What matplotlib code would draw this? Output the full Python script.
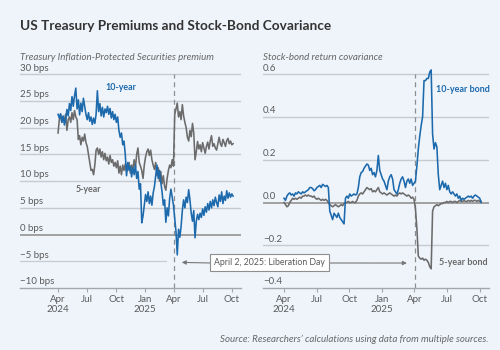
import matplotlib
matplotlib.use('Agg')
import matplotlib.pyplot as plt
import pandas as pd

# Data, one point every 4 days from 1 Apr 2024
dates = pd.date_range('2024-04-01', periods=139, freq='4D')
liberation_day = pd.Timestamp('2025-04-02')

# TIPS premium, basis points
tips_10yr = [
    22.5, 21.8, 22.6, 21.0, 22.2, 20.5, 21.6, 23.4, 22.2, 24.5,
    23.2, 25.8, 24.0, 26.0, 27.4, 23.5, 25.2, 22.4, 24.6, 23.0,
    25.5, 24.0, 22.5, 21.5, 22.8, 21.2, 22.0, 20.6, 21.8, 20.8,
    22.5, 26.9, 23.0, 24.5, 22.2, 23.8, 22.0, 23.5, 22.8, 24.0,
    22.5, 23.6, 21.8, 23.0, 21.5, 22.5, 21.0, 22.0, 19.5, 18.2,
    19.0, 16.8, 17.5, 15.0, 11.0, 13.5, 12.0, 12.8, 10.8, 12.5,
    11.2, 13.0, 10.5, 11.8, 8.5, 9.5, 2.2, 3.5, 5.5, 7.5,
    6.2, 8.0, 5.8, 7.2, 5.5, 7.8, 9.0, 11.0, 13.0, 10.5,
    12.0, 9.8, 8.0, 5.5, 6.5, 2.3, 5.0, 3.5, 6.8, 8.5,
    7.0, 5.5, 3.0, 0.5, -3.8, 1.0, -0.5, 1.5, 4.5, 6.5,
    5.0, 7.0, 6.0, 8.4, 6.5, 4.0, 2.5, 4.5, -0.6, 2.5,
    3.8, 2.8, 4.0, 3.2, 4.8, 3.6, 5.2, 4.2, 5.8, 4.6,
    6.2, 5.0, 6.5, 5.4, 7.0, 6.0, 5.2, 7.4, 6.2, 8.0,
    5.8, 7.2, 6.4, 8.2, 6.8, 7.8, 7.0, 7.6, 7.2,
]
tips_5yr = [
    19.0, 21.5, 22.5, 21.0, 22.0, 21.5, 22.5, 19.5, 21.5, 22.0,
    21.0, 22.8, 21.5, 23.2, 22.0, 21.5, 17.8, 18.5, 16.8, 18.2,
    17.5, 18.8, 17.2, 16.5, 15.0, 13.5, 12.0, 12.2, 11.2, 13.0,
    15.8, 16.2, 15.0, 16.0, 14.5, 15.5, 14.0, 15.2, 13.8, 14.5,
    13.2, 14.8, 13.5, 14.0, 12.8, 13.5, 12.5, 13.8, 11.5, 12.8,
    11.2, 13.0, 12.0, 13.2, 11.8, 12.5, 13.5, 11.5, 13.0, 12.2,
    14.0, 12.5, 15.0, 16.2, 13.5, 12.8, 12.0, 10.5, 13.0, 14.5,
    15.5, 16.0, 14.8, 15.8, 14.0, 13.0, 12.2, 13.5, 11.0, 12.5,
    10.0, 11.8, 9.5, 11.0, 9.0, 8.3, 10.5, 12.0, 13.0, 12.5,
    14.0, 12.8, 22.5, 23.5, 24.6, 22.0, 23.0, 21.5, 24.3, 22.2,
    21.0, 20.0, 18.2, 17.5, 19.5, 18.3, 20.8, 19.0, 14.0, 15.5,
    17.4, 16.0, 16.8, 15.5, 17.2, 16.2, 15.2, 16.5, 17.3, 16.0,
    17.5, 18.5, 16.5, 17.0, 16.2, 15.8, 17.0, 18.2, 17.0, 16.5,
    17.8, 17.2, 16.5, 17.6, 18.0, 17.0, 17.5, 16.8, 17.0,
]

# Stock-bond return covariance
cov_10yr = [
    0.020, 0.010, 0.030, 0.040, 0.045, 0.035, 0.040, 0.030, 0.045, 0.040,
    0.050, 0.045, 0.040, 0.050, 0.045, 0.050, 0.055, 0.060, 0.070, 0.070,
    0.065, 0.055, 0.060, 0.070, 0.075, 0.080, 0.070, 0.085, 0.080, 0.075,
    0.080, 0.070, -0.040, -0.060, -0.080, -0.050, -0.060, -0.070, -0.050, -0.070,
    -0.080, -0.090, -0.100, 0.020, 0.030, 0.020, 0.040, 0.030, 0.035, 0.040,
    0.035, 0.040, 0.070, 0.120, 0.140, 0.145, 0.160, 0.170, 0.180, 0.175,
    0.150, 0.160, 0.130, 0.140, 0.120, 0.150, 0.220, 0.150, 0.130, 0.110,
    0.100, 0.080, 0.060, 0.100, 0.120, 0.130, 0.110, 0.060, 0.050, 0.040,
    0.060, 0.090, 0.110, 0.120, 0.100, 0.070, 0.100, 0.110, 0.090, 0.110,
    0.080, 0.090, 0.100, 0.170, 0.250, 0.310, 0.360, 0.400, 0.570, 0.570,
    0.580, 0.580, 0.610, 0.620, 0.320, 0.250, 0.280, 0.260, 0.130, 0.060,
    0.080, 0.100, 0.070, 0.090, 0.060, 0.080, 0.050, 0.040, 0.050, 0.040,
    0.030, 0.040, 0.020, 0.030, 0.010, 0.020, 0.015, 0.020, 0.025, 0.030,
    0.025, 0.030, 0.020, 0.030, 0.035, 0.030, 0.025, 0.020, 0.000,
]
cov_5yr = [
    0.000, -0.010, -0.020, -0.015, 0.000, 0.010, 0.020, 0.015, 0.020, 0.015,
    0.020, 0.025, 0.020, 0.030, 0.030, 0.035, 0.030, 0.035, 0.030, 0.030,
    0.025, 0.030, 0.020, 0.015, 0.020, 0.015, 0.010, 0.015, 0.010, 0.015,
    0.010, 0.000, -0.010, -0.015, -0.020, -0.015, -0.010, -0.015, -0.020, -0.015,
    -0.010, -0.015, -0.005, 0.000, 0.000, 0.005, 0.000, 0.000, 0.005, 0.000,
    0.000, 0.010, 0.030, 0.040, 0.045, 0.040, 0.050, 0.060, 0.070, 0.065,
    0.060, 0.065, 0.050, 0.055, 0.050, 0.060, 0.070, 0.050, 0.045, 0.040,
    0.045, 0.040, 0.035, 0.040, 0.045, 0.040, 0.035, 0.030, 0.035, 0.030,
    0.040, 0.045, 0.040, 0.045, 0.040, 0.035, 0.030, 0.035, 0.030, 0.020,
    0.025, 0.015, -0.030, -0.120, -0.250, -0.260, -0.265, -0.260, -0.270, -0.265,
    -0.270, -0.280, -0.300, -0.310, -0.040, -0.020, -0.015, -0.010, -0.015, -0.010,
    -0.005, -0.005, 0.000, 0.000, 0.005, 0.000, 0.005, 0.005, 0.000, 0.005,
    0.005, 0.000, 0.005, 0.010, 0.005, 0.005, 0.010, 0.005, 0.005, 0.010,
    0.005, 0.010, 0.005, 0.010, 0.010, 0.005, 0.010, 0.005, 0.005,
]

tips_ticks = [30, 25, 20, 15, 10, 5, 0, -5, -10]
tips_labels = ['30 bps', '25 bps', '20 bps', '15 bps', '10 bps', '5 bps',
               '0 bps', '\u22125 bps', '\u221210 bps']
cov_ticks = [0.6, 0.4, 0.2, 0.0, -0.2, -0.4]
cov_labels = ['0.6', '0.4', '0.2', '0.0', '\u22120.2', '\u22120.4']
month_ticks = pd.to_datetime(['2024-04-01', '2024-07-01', '2024-10-01', '2025-01-01',
                              '2025-04-01', '2025-07-01', '2025-10-01'])
month_labels = ['Apr\n2024', 'Jul', 'Oct', 'Jan\n2025', 'Apr', 'Jul', 'Oct']

BG = '#eff4fb'
BLUE = '#1c69ac'
GRAY = '#6b6b6b'
GRID = '#c6cad1'
AXIS = '#a3a6ab'
TEXT = '#5a5a5a'

plt.rcParams['font.family'] = ['Lato', 'DejaVu Sans']

# a little head room above the top gridline so it is not clipped
PAD = 0.04
fig = plt.figure(figsize=(5, 3.5), dpi=100, facecolor=BG)
ax1 = fig.add_axes([0.04, 0.177, 0.442, 0.611 * (1 + PAD)])
ax2 = fig.add_axes([0.526, 0.177, 0.452, 0.611 * (1 + PAD)])


def style_axis(ax, ticks, labels, xlim, cut=None):
    ax.set_facecolor(BG)
    ax.set_xlim(pd.Timestamp(xlim[0]), pd.Timestamp(xlim[1]))
    span = ticks[0] - ticks[-1]
    ax.set_ylim(ticks[-1], ticks[0] + PAD * span)
    for v, lab in zip(ticks, labels):
        if v == ticks[-1]:
            pass
        elif v == 0:
            ax.axhline(v, color='#9b9b9b', lw=1.3, zorder=1)
        elif cut is not None and v == cut[0]:
            ax.axhline(v, xmax=cut[1], color=GRID, lw=0.9, zorder=1)
        else:
            ax.axhline(v, color=GRID, lw=1.0, zorder=1.5)
        ax.annotate(lab, xy=(0, v), xycoords=('axes fraction', 'data'),
                    xytext=(0, 1.2), textcoords='offset points',
                    ha='left', va='bottom', fontsize=7, color=TEXT)
    for s in ['top', 'right', 'left']:
        ax.spines[s].set_visible(False)
    ax.spines['bottom'].set_color(AXIS)
    ax.spines['bottom'].set_linewidth(1.0)
    ax.set_yticks([])
    ax.set_xticks(month_ticks)
    ax.set_xticklabels(month_labels)
    ax.tick_params(axis='x', length=3, width=0.8, color=AXIS, labelsize=7,
                   labelcolor=TEXT, pad=2)
    ax.axvline(liberation_day, ymax=1 / (1 + PAD), color='#8e8e8e', lw=0.9,
               ls=(0, (4, 3)), zorder=2)


style_axis(ax1, tips_ticks, tips_labels, ('2023-12-03', '2025-10-30'), cut=(-5, 0.66))
style_axis(ax2, cov_ticks, cov_labels, ('2024-02-02', '2025-10-27'))

ax1.plot(dates, tips_5yr, color=GRAY, lw=1.15, zorder=3)
ax1.plot(dates, tips_10yr, color=BLUE, lw=1.15, zorder=4)
ax2.plot(dates, cov_5yr, color=GRAY, lw=1.15, zorder=3)
ax2.plot(dates, cov_10yr, color=BLUE, lw=1.15, zorder=4)

# series labels, anchored in data space
ax1.text(pd.Timestamp('2024-08-27'), 27.6, '10-year', color=BLUE,
         fontsize=6.4, fontweight='bold', va='center')
ax1.text(pd.Timestamp('2024-05-27'), 8.4, '5-year', color=GRAY,
         fontsize=6.4, fontweight='bold', va='center')
ax2.text(pd.Timestamp('2025-06-01'), 0.53, '10-year bond', color=BLUE,
         fontsize=6.5, fontweight='bold', va='center')
ax2.text(pd.Timestamp('2025-06-10'), -0.28, '5-year bond', color=GRAY,
         fontsize=6.5, fontweight='bold', va='center')

# Liberation Day callout with arrows to both dashed lines
fig.text(269.5 / 500, 1 - 262.5 / 350, 'April 2, 2025: Liberation Day',
         ha='center', va='center', fontsize=6.3, color=TEXT, zorder=10,
         bbox=dict(boxstyle='square,pad=0.5', fc='white', ec='#8e8e8e', lw=0.8))
arrow = dict(arrowstyle='-|>', color='#777777', lw=0.8, mutation_scale=6,
             shrinkA=0, shrinkB=0)
ax1.annotate('', xy=(liberation_day + pd.Timedelta(days=24), -5.2),
             xytext=(210 / 500, 1 - 263 / 350), textcoords='figure fraction',
             arrowprops=arrow, annotation_clip=False)
ax2.annotate('', xy=(liberation_day - pd.Timedelta(days=22), -0.283),
             xytext=(329 / 500, 1 - 263 / 350), textcoords='figure fraction',
             arrowprops=arrow, annotation_clip=False)

fig.text(0.04, 1 - 29.5 / 350, 'US Treasury Premiums and Stock-Bond Covariance',
         fontsize=9.8, fontweight='bold', color='#333333', va='baseline')
fig.text(0.04, 1 - 60 / 350, 'Treasury Inflation-Protected Securities premium',
         fontsize=7, style='italic', color='#666666', va='baseline')
fig.text(0.526, 1 - 60 / 350, 'Stock-bond return covariance',
         fontsize=7, style='italic', color='#666666', va='baseline')
fig.text(489 / 500, 1 - 342 / 350,
         "Source: Researchers\u2019 calculations using data from multiple sources.",
         fontsize=7, style='italic', color='#666666', ha='right', va='baseline')

fig.savefig('out.png', dpi=100, facecolor=BG)
